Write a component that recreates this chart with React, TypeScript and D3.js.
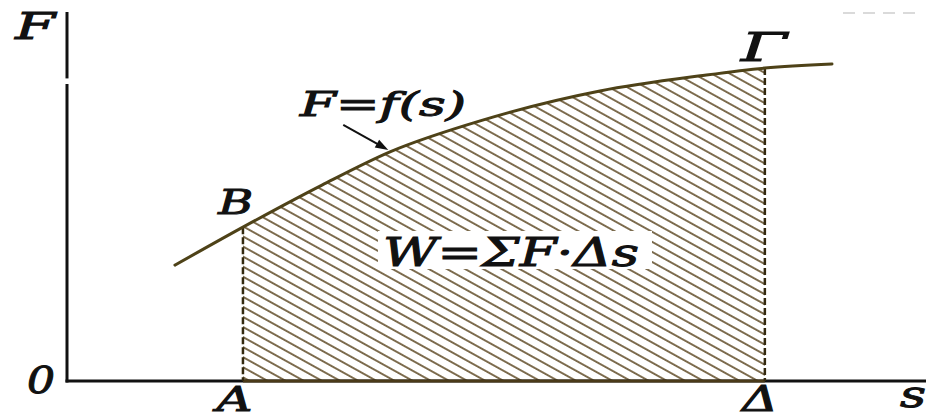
import React from "react";
import * as d3 from "d3";

// Curve F = f(s) (s, F in arbitrary units)
const sValues = [1.27, 2.07, 3.0, 3.8, 4.89, 6.27, 7.45, 8.21, 9.0];
const fValues = [3.14, 4.17, 5.31, 6.21, 7.07, 7.86, 8.27, 8.48, 8.59];
const sA = 2.07; // point A
const sD = 8.21; // point Δ
const sMax = 10;
const fMax = 10;

const labelTexts = ["F", "0", "A", "Δ", "s", "B", "Γ"];
const labelS = [-0.61, -0.47, 1.76, 7.94, 9.8, 1.78, 7.93];
const labelF = [9.27, -0.33, -0.8, -0.8, -0.7, 4.53, 8.68];
const labelSize = [38, 38, 34, 36, 38, 34, 40];
const labelLen = [40, 28, 36, 36, 26, 35, 46];

const formulaMain = "W=ΣF·Δs";
const formulaCurve = "F=f(s)";
const arrowS = [3.25, 3.78];
const arrowF = [6.94, 6.26];

const W = 926;
const H = 418;

export default function App() {
  const x = d3.scaleLinear().domain([0, sMax]).range([67, 917]);
  const y = d3.scaleLinear().domain([0, fMax]).range([381, 12]);
  const pts: [number, number][] = sValues.map((s, i) => [s, fValues[i]]);

  const line = d3
    .line<[number, number]>()
    .x((d) => x(d[0]))
    .y((d) => y(d[1]))
    .curve(d3.curveMonotoneX);
  const area = d3
    .area<[number, number]>()
    .x((d) => x(d[0]))
    .y0(y(0))
    .y1((d) => y(d[1]))
    .curve(d3.curveMonotoneX);

  const fontFamily = "'DejaVu Serif', 'Liberation Serif', serif";
  const ink = "#111";
  const curveColor = "#4e4218";
  const hatchColor = "#5e4a26";
  const textStroke = 1;

  const ax0 = x(arrowS[0]);
  const ay0 = y(arrowF[0]);
  const ax1 = x(arrowS[1]);
  const ay1 = y(arrowF[1]);
  const ang = Math.atan2(ay1 - ay0, ax1 - ax0);
  const hl = 13;
  const hw = 4.5;
  const head = [
    [ax1, ay1],
    [ax1 - hl * Math.cos(ang) + hw * Math.sin(ang), ay1 - hl * Math.sin(ang) - hw * Math.cos(ang)],
    [ax1 - hl * Math.cos(ang) - hw * Math.sin(ang), ay1 - hl * Math.sin(ang) + hw * Math.cos(ang)],
  ]
    .map((p) => p.join(","))
    .join(" ");

  return (
    <svg
      width={W}
      height={H}
      style={{ position: "absolute", left: 0, top: 0, background: "#fff" }}
    >
      <defs>
        <pattern
          id="hatch"
          patternUnits="userSpaceOnUse"
          width={20}
          height={8.8}
          patternTransform="rotate(29)"
        >
          <line x1={0} y1={1} x2={20} y2={1} stroke={hatchColor} strokeWidth={1.6} />
        </pattern>
        <clipPath id="clipAD">
          <rect x={x(sA)} y={0} width={x(sD) - x(sA)} height={y(0)} />
        </clipPath>
      </defs>

      {/* hatched work area */}
      <path d={area(pts) || ""} fill="url(#hatch)" clipPath="url(#clipAD)" />
      {/* clear box behind the formula */}
      <rect x={378} y={231} width={274} height={38} fill="#fff" />

      {/* faint scan artefact top right */}
      <line x1={843} y1={13} x2={920} y2={13} stroke="#dadada" strokeWidth={2} strokeDasharray="12,8" />

      {/* axes */}
      <line x1={x(0)} y1={y(fMax)} x2={x(0)} y2={y(8.2)} stroke={ink} strokeWidth={3} />
      <line x1={x(0)} y1={y(8.05)} x2={x(0)} y2={y(0) + 1.5} stroke={ink} strokeWidth={3} />
      <line x1={x(0) - 1.5} y1={y(0)} x2={W} y2={y(0)} stroke={ink} strokeWidth={3} />
      <line x1={x(sA)} y1={y(0)} x2={x(sD)} y2={y(0)} stroke="#4a3a18" strokeWidth={3} />

      {/* dashed verticals */}
      <line
        x1={x(sA)}
        y1={y(fValues[1])}
        x2={x(sA)}
        y2={y(0)}
        stroke="#33290f"
        strokeWidth={2.5}
        strokeDasharray="7,3"
      />
      <line
        x1={x(sD)}
        y1={y(fValues[7])}
        x2={x(sD)}
        y2={y(0)}
        stroke="#33290f"
        strokeWidth={2.5}
        strokeDasharray="7,3"
      />

      {/* curve */}
      <path d={line(pts) || ""} fill="none" stroke={curveColor} strokeWidth={3} strokeLinecap="round" />

      {/* arrow */}
      <line x1={ax0} y1={ay0} x2={ax1 - 8 * Math.cos(ang)} y2={ay1 - 8 * Math.sin(ang)} stroke={ink} strokeWidth={2} />
      <polygon points={head} fill={ink} />

      {/* labels */}
      {labelTexts.map((t, i) => (
        <text
          key={i}
          x={x(labelS[i])}
          y={y(labelF[i])}
          fontFamily={fontFamily}
          fontStyle="italic"
          fontSize={labelSize[i]}
          fill={ink}
          stroke={ink}
          strokeWidth={textStroke}
          textLength={labelLen[i]}
          lengthAdjust="spacingAndGlyphs"
        >
          {t}
        </text>
      ))}
      <text
        x={383}
        y={266}
        fontFamily={fontFamily}
        fontStyle="italic"
        fontSize={39}
        fill={ink}
        stroke={ink}
        strokeWidth={textStroke}
        textLength={256}
        lengthAdjust="spacingAndGlyphs"
      >
        {formulaMain}
      </text>
      <text
        x={300}
        y={116}
        fontFamily={fontFamily}
        fontStyle="italic"
        fontSize={34}
        fill={ink}
        stroke={ink}
        strokeWidth={textStroke}
        textLength={166}
        lengthAdjust="spacingAndGlyphs"
      >
        {formulaCurve}
      </text>
    </svg>
  );
}
